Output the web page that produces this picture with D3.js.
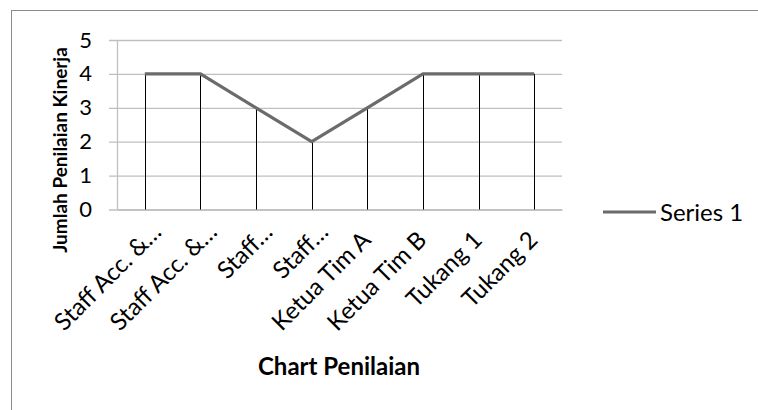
<!DOCTYPE html>
<html><head><meta charset="utf-8">
<script src="https://cdn.jsdelivr.net/npm/d3@7"></script>
<style>body{margin:0;background:#fff}svg{display:block}text{font-family:Lato,"Open Sans",sans-serif}</style>
</head><body>
<svg id="c" width="758" height="410"></svg>
<script>
const categories = ["Staff Acc. &…","Staff Acc. &…","Staff…","Staff…","Ketua Tim A","Ketua Tim B","Tukang 1","Tukang 2"];
const series1 = [4,4,3,2,3,4,4,4];
const yTicks = [0,1,2,3,4,5];
const seriesName = "Series 1";
const xTitle = "Chart Penilaian";
const yTitle = "Jumlah Penilaian Kinerja";

const svg = d3.select("#c");
svg.append("rect").attr("x",11.5).attr("y",10.5).attr("width",760).attr("height",420)
  .attr("fill","#fff").attr("stroke","#8c8c8c").attr("stroke-width",1);

const L=117, R=562, T=40, B=209.5;
const x = d3.scaleBand().domain(d3.range(categories.length)).range([L,R]).padding(0);
const y = d3.scaleLinear().domain([0,5]).range([B,T]);
const cx = i => x(i)+x.bandwidth()/2;

// gridlines with left ticks
const yAxis = d3.axisLeft(y).tickValues(yTicks).tickSize(-(R-L)).tickPadding(25).tickFormat(d3.format("d"));
const gy = svg.append("g").attr("transform",`translate(${L},0)`).call(yAxis);
gy.select(".domain").remove();
gy.selectAll(".tick line").attr("stroke","#bfbfbf").attr("stroke-width",1.3).attr("x1",-8);
gy.selectAll(".tick text").attr("font-size",22).attr("fill","#000").attr("font-family","Lato");
svg.append("line").attr("x1",L+0.5).attr("x2",L+0.5).attr("y1",T).attr("y2",B).attr("stroke","#bfbfbf").attr("stroke-width",1.3);

// x axis
const xAxis = d3.axisBottom(x).tickSize(0).tickFormat(i=>categories[i]);
const gx = svg.append("g").attr("transform",`translate(0,${B})`).call(xAxis);
gx.select(".domain").attr("stroke","#bfbfbf").attr("stroke-width",1.3);
gx.selectAll(".tick text").attr("font-size",24).attr("fill","#000").attr("font-family","Lato")
  .attr("text-anchor","end").attr("dy",0).attr("y",0)
  .attr("transform",i=>categories[i].endsWith("…") ? "translate(18,24) rotate(-45)" : "translate(5,32) rotate(-45)");

// drop lines
svg.append("g").selectAll("line").data(series1).join("line")
  .attr("x1",(d,i)=>Math.round(cx(i))+0.5).attr("x2",(d,i)=>Math.round(cx(i))+0.5)
  .attr("y1",d=>y(d)).attr("y2",B).attr("stroke","#000").attr("stroke-width",1);

// series line
svg.append("path").datum(series1)
  .attr("d",d3.line().x((d,i)=>cx(i)).y(d=>y(d)))
  .attr("fill","none").attr("stroke","#6b6b6b").attr("stroke-width",3.2).attr("stroke-linejoin","round");

// legend
svg.append("line").attr("x1",603).attr("x2",656).attr("y1",212).attr("y2",212).attr("stroke","#6b6b6b").attr("stroke-width",3.2);
svg.append("text").attr("x",660).attr("y",221).attr("font-size",24).text(seriesName);

// titles
svg.append("text").attr("x",339).attr("y",375).attr("text-anchor","middle").attr("font-size",24).attr("font-weight","bold").text(xTitle);
svg.append("text").attr("transform",`translate(67,150) rotate(-90)`).attr("text-anchor","middle").attr("font-size",19).attr("font-weight","bold").text(yTitle);
</script>
</body></html>
